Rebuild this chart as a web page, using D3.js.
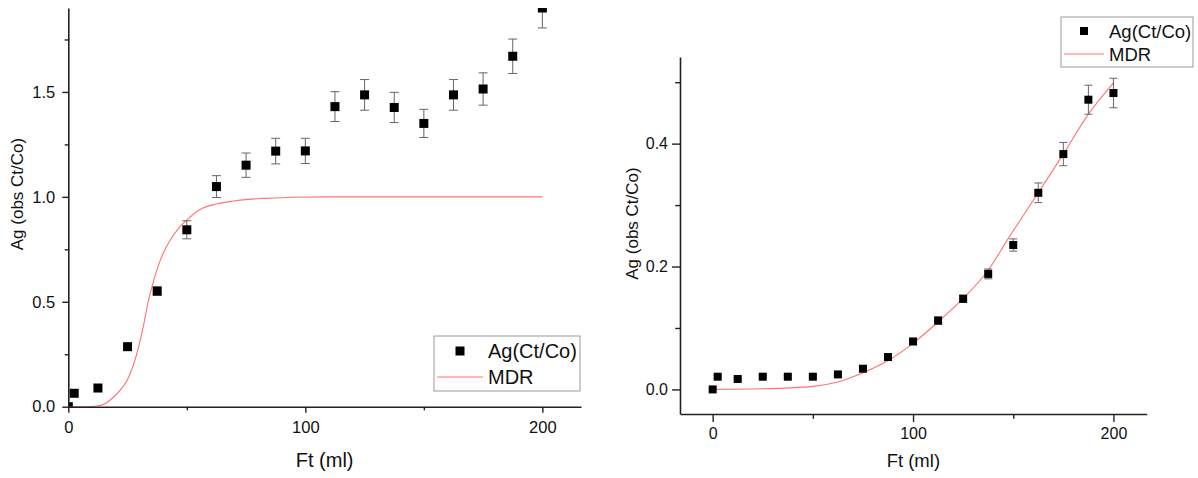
<!DOCTYPE html>
<html>
<head>
<meta charset="utf-8">
<script src="https://cdn.jsdelivr.net/npm/d3@7"></script>
<style>
  body { margin:0; background:#fff; }
  text { font-family: "Liberation Sans", Arial, sans-serif; fill:#111; }
</style>
</head>
<body>
<div id="chart"></div>
<script>
// ---- data ----
var ftValues = [0,2.5,12.5,25,37.5,50,62.5,75,87.5,100,112.5,125,137.5,150,162.5,175,187.5,200];

// left panel
var leftAg  = [0,0.064,0.089,0.286,0.551,0.843,1.049,1.151,1.218,1.219,1.430,1.486,1.426,1.350,1.486,1.514,1.670,1.90];
var leftErr = [0,0,0,0,0.02,0.043,0.052,0.058,0.061,0.06,0.071,0.073,0.072,0.067,0.073,0.077,0.082,0.095];
var leftMdrFt = [0,8,12,16,19,22,25,27.5,30,31.6,33.7,35.5,37.3,40,43,46.5,50,55.6,62,69.6,76,83.7,95,110,200];
var leftMdrAg = [0,0,0.003,0.018,0.045,0.08,0.13,0.2,0.3,0.38,0.5,0.58,0.65,0.73,0.794,0.85,0.89,0.94,0.965,0.98,0.988,0.993,0.998,1,1];

// right panel
var rightAg  = [0,0.0207,0.017,0.0207,0.0207,0.0207,0.0244,0.0337,0.0527,0.078,0.112,0.1475,0.188,0.235,0.320,0.383,0.4715,0.4824];
var rightErr = [0,0.002,0.002,0.002,0.002,0.002,0.002,0.003,0.004,0.005,0.006,0.006,0.008,0.01,0.016,0.019,0.0236,0.024];
var rightMdrFt = [0,25,50,62.5,75,87.5,100,112.5,125,137.5,147,162.5,175,187.5,200];
var rightMdrAg = [0,0.001,0.005,0.012,0.027,0.047,0.075,0.11,0.148,0.194,0.243,0.32,0.383,0.448,0.499];

var xMajor = [0,100,200], xMinor = [50,150];
var leftYMajor = [0,0.5,1.0,1.5], leftYMinor = [0.25,0.75,1.25,1.75];
var rightYMajor = [0,0.2,0.4], rightYMinor = [0.1,0.3,0.5];

var seriesName = "Ag(Ct/Co)", fitName = "MDR";
var xTitle = "Ft (ml)", yTitle = "Ag (obs Ct/Co)";

const W = 1198, H = 478;
const svg = d3.select("#chart").append("svg").attr("width",W).attr("height",H);

var redLine = "#ff7373";

var drawPanel = function(o){
  var x = d3.scaleLinear().domain(o.xDom).range(o.xRange);
  var y = d3.scaleLinear().domain(o.yDom).range(o.yRange);
  var g = svg.append("g");

  var clipId = "clip"+o.id;
  g.append("clipPath").attr("id",clipId).append("rect")
    .attr("x",o.xRange[0]).attr("y",o.yRange[1])
    .attr("width",o.xRange[1]-o.xRange[0]).attr("height",o.yRange[0]-o.yRange[1]);

  // fit line
  var pts = o.mdrFt.map((v,i)=>[v,o.mdrAg[i]]);
  g.append("path").datum(pts)
    .attr("fill","none").attr("stroke",redLine).attr("stroke-width",1.1)
    .attr("d", d3.line().x(d=>x(d[0])).y(d=>y(d[1])).curve(d3.curveMonotoneX));

  var data = ftValues.map((v,i)=>({x:v,y:o.ag[i],e:o.err[i]}));
  var pg = g.append("g").attr("clip-path","url(#"+clipId+")");
  var eb = data.filter(d=>d.e>0);
  var cw = o.cap/2;
  pg.selectAll(".ebv").data(eb).enter().append("line")
    .attr("x1",d=>x(d.x)).attr("x2",d=>x(d.x))
    .attr("y1",d=>y(d.y-d.e)).attr("y2",d=>y(d.y+d.e))
    .attr("stroke","#666").attr("stroke-width",1);
  pg.selectAll(".ebt").data(eb).enter().append("line")
    .attr("x1",d=>x(d.x)-cw).attr("x2",d=>x(d.x)+cw)
    .attr("y1",d=>y(d.y+d.e)).attr("y2",d=>y(d.y+d.e))
    .attr("stroke","#666").attr("stroke-width",1);
  pg.selectAll(".ebb").data(eb).enter().append("line")
    .attr("x1",d=>x(d.x)-cw).attr("x2",d=>x(d.x)+cw)
    .attr("y1",d=>y(d.y-d.e)).attr("y2",d=>y(d.y-d.e))
    .attr("stroke","#666").attr("stroke-width",1);
  var ms = o.marker;
  pg.selectAll(".pt").data(data).enter().append("rect")
    .attr("x",d=>x(d.x)-ms/2).attr("y",d=>y(d.y)-ms/2)
    .attr("width",ms).attr("height",ms).attr("fill","#000");

  // axes
  var yb = o.yRange[0];
  var xl = o.xRange[0];
  g.append("g").attr("transform","translate(0,"+yb+")")
    .call(d3.axisBottom(x).tickValues(xMajor).tickSize(o.tick).tickSizeOuter(0).tickPadding(o.xPad).tickFormat(d3.format("d")));
  g.append("g").attr("transform","translate(0,"+yb+")")
    .call(d3.axisBottom(x).tickValues(xMinor).tickSize(o.tick*0.6).tickSizeOuter(0).tickFormat(""))
    .select(".domain").remove();
  g.append("g").attr("transform","translate("+xl+",0)")
    .call(d3.axisLeft(y).tickValues(o.yMajor).tickSize(o.tick).tickSizeOuter(0).tickPadding(o.yPad).tickFormat(d3.format(".1f")));
  g.append("g").attr("transform","translate("+xl+",0)")
    .call(d3.axisLeft(y).tickValues(o.yMinor).tickSize(o.tick*0.6).tickSizeOuter(0).tickFormat(""))
    .select(".domain").remove();
  g.selectAll(".domain").attr("stroke","#222").attr("stroke-width",1.6);
  g.selectAll(".tick line").attr("stroke","#222").attr("stroke-width",1.4);
  g.selectAll(".tick text").attr("font-size",o.tickFont).attr("fill","#111")
    .attr("font-family","Liberation Sans, Arial, sans-serif");

  // titles
  g.append("text").attr("x",(o.xRange[0]+o.xRange[1])/2).attr("y",467)
    .attr("text-anchor","middle").attr("font-size",o.xTitleFont).text(xTitle);
  g.append("text").attr("transform","translate("+o.yTitleX+","+o.yTitleY+") rotate(-90)")
    .attr("text-anchor","middle").attr("font-size",17).text(yTitle);

  // legend
  var L = o.legend;
  g.append("rect").attr("x",L.x).attr("y",L.y).attr("width",L.w).attr("height",L.h)
    .attr("fill","#fff").attr("stroke","#999").attr("stroke-width",1);
  g.append("rect").attr("x",L.mx-ms/2).attr("y",L.my1-ms/2).attr("width",ms).attr("height",ms).attr("fill","#000");
  g.append("line").attr("x1",L.x+3).attr("x2",L.lx2).attr("y1",L.my2).attr("y2",L.my2)
    .attr("stroke",redLine).attr("stroke-width",1.1);
  g.append("text").attr("x",L.tx).attr("y",L.b1).attr("font-size",L.font).text(seriesName);
  g.append("text").attr("x",L.tx).attr("y",L.b2).attr("font-size",L.font).text(fitName);
}

drawPanel({
  id:"L", xDom:[0,216.3], xRange:[68.3,581], yDom:[0,1.9], yRange:[406.7,8],
  ag:leftAg, err:leftErr, mdrFt:leftMdrFt, mdrAg:leftMdrAg,
  yMajor:leftYMajor, yMinor:leftYMinor,
  marker:9, cap:9, tick:6, xPad:9, yPad:7, tickFont:16.5, xTitleFont:20,
  yTitleX:23, yTitleY:194,
  legend:{x:434,y:336,w:146,h:55,mx:460,my1:351,my2:377,lx2:483,tx:488,b1:358,b2:384,font:20}
});

drawPanel({
  id:"R", xDom:[-16.3,216.6], xRange:[680,1146.7], yDom:[-0.04,0.541], yRange:[414,57],
  ag:rightAg, err:rightErr, mdrFt:rightMdrFt, mdrAg:rightMdrAg,
  yMajor:rightYMajor, yMinor:rightYMinor,
  marker:8, cap:8, tick:8, xPad:6, yPad:4, tickFont:16, xTitleFont:18.5,
  yTitleX:638, yTitleY:223.5,
  legend:{x:1061,y:17,w:132,h:50,mx:1084,my1:31,my2:54,lx2:1104,tx:1109,b1:37.5,b2:61,font:18.5}
});
</script>
</body>
</html>
